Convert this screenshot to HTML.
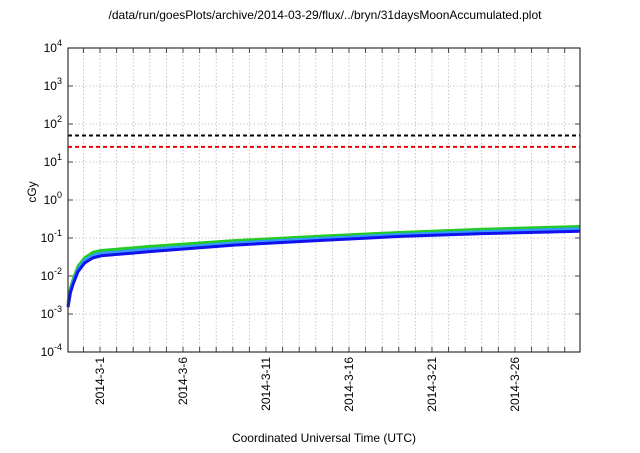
<!DOCTYPE html>
<html><head><meta charset="utf-8"><style>body{margin:0;background:#fff}svg{font-family:"Liberation Sans",sans-serif}</style></head><body>
<svg id="c" width="640" height="448" xmlns="http://www.w3.org/2000/svg"></svg>
<script>
const tickDays=[1.93,6.93,11.93,16.93,21.93,26.93];
const tickLabels=["2014-3-1","2014-3-6","2014-3-11","2014-3-16","2014-3-21","2014-3-26"];
const yExps=[-4,-3,-2,-1,0,1,2,3,4];
const days=[0,0.15,0.3,0.6,1,1.5,2,5,10,15,20,25,30.85];
const redVals=[0.0021,0.005,0.0085,0.019,0.031,0.043,0.048,0.062,0.088,0.113,0.145,0.175,0.205];
const greenVals=[0.002,0.0048,0.008,0.018,0.03,0.042,0.047,0.06,0.085,0.11,0.14,0.17,0.2];
const lightBlueVals=[0.0017,0.0042,0.007,0.015,0.026,0.035,0.04,0.051,0.074,0.096,0.124,0.148,0.175];
const blueVals=[0.0015,0.0037,0.006,0.013,0.022,0.03,0.034,0.044,0.065,0.085,0.11,0.13,0.15];
const thresholds=[50,25];
const L=68,R=580,T=48,B=352,D0=0,D1=30.85;
const x=d=>L+(d-D0)/(D1-D0)*(R-L);
const y=v=>T+(4-Math.log10(v))/8*(B-T);
const s=document.getElementById('c');const NS="http://www.w3.org/2000/svg";
function mk(t,a,p){const e=document.createElementNS(NS,t);for(const k in a)e.setAttribute(k,a[k]);(p||s).appendChild(e);return e;}
for(let d=Math.ceil(D0+0.93)-0.07;d<D1;d+=1){if(d<=0.1)continue;
const g=mk('line',{x1:x(d),x2:x(d),y1:T,y2:B,stroke:'#bbb','stroke-dasharray':'1.5,2','stroke-width':0.8});

const t=mk('line',{x1:x(d),x2:x(d),y1:B,y2:B-5,stroke:'#444'});
const t2=mk('line',{x1:x(d),x2:x(d),y1:T,y2:T+5,stroke:'#444'});}
yExps.forEach(e=>{const yy=y(Math.pow(10,e));
if(e>-4&&e<4){const g=mk('line',{x1:L,x2:R,y1:yy,y2:yy,stroke:'#bbb','stroke-dasharray':'1.5,2','stroke-width':0.8});}
mk('line',{x1:L,x2:L+5,y1:yy,y2:yy,stroke:'#444'});mk('line',{x1:R,x2:R-5,y1:yy,y2:yy,stroke:'#444'});
const tx=mk('text',{x:62,y:yy+4,'text-anchor':'end','font-size':12});
tx.innerHTML='10<tspan dy="-6" font-size="9">'+e+'</tspan>';});
tickDays.forEach((d,i)=>{const t=mk('text',{transform:`translate(${x(d)+4},357) rotate(-90)`,'text-anchor':'end','font-size':12});
t.textContent=tickLabels[i];});
const tc=['#000','#e00'];
thresholds.forEach((v,i)=>{const l=mk('line',{x1:L,x2:R,y1:y(v),y2:y(v),stroke:tc[i],'stroke-width':2,'stroke-dasharray':'4,3'});
});
function series(vals,col,w,name){const p=mk('polyline',{points:vals.map((v,i)=>x(days[i])+','+y(v)).join(' '),fill:'none',stroke:col,'stroke-width':w,'stroke-linejoin':'round'});
}
series(redVals,'#e07050',1.5,'series-red');
series(greenVals,'#22cc22',3,'series-green');
series(lightBlueVals,'#3399ff',3,'series-light-blue');
series(blueVals,'#1111ee',3,'series-blue');
const fr=mk('rect',{x:L,y:T,width:R-L,height:B-T,fill:'none',stroke:'#333','stroke-width':1.2});
const ti=mk('text',{x:325,y:19,'text-anchor':'middle','font-size':12});ti.textContent='/data/run/goesPlots/archive/2014-03-29/flux/../bryn/31daysMoonAccumulated.plot';
const yt=mk('text',{x:0,y:0,'text-anchor':'middle','font-size':12,transform:'translate(36,192) rotate(-90)'});yt.textContent='cGy';
const xt=mk('text',{x:324,y:442,'text-anchor':'middle','font-size':12});xt.textContent='Coordinated Universal Time (UTC)';
</script></body></html>
